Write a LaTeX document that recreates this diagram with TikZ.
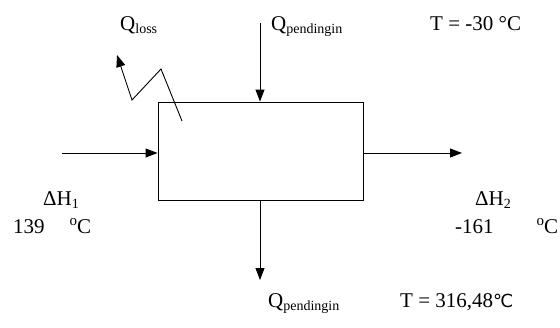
\documentclass[tikz,border=0pt]{standalone}
\usepackage{fontspec}
\setmainfont{Liberation Serif}
\newfontfamily\symfont{DejaVu Sans}
\usetikzlibrary{arrows.meta}
\newcommand{\subtxt}[1]{\raisebox{-0.35ex}{\fontsize{14}{14}\selectfont #1}}
\newcommand{\supo}{\raisebox{0.75ex}{\fontsize{15}{15}\selectfont o}}
\begin{document}
\begin{tikzpicture}[x=1pt,y=-1pt,
  lbl/.style={anchor=base west,inner sep=0pt,font=\fontsize{21}{21}\selectfont},
  flow/.style={line width=0.9pt,-{Triangle[length=12pt,width=9pt]}},
  unitbox/.style={draw,line width=0.9pt,minimum width=205pt,minimum height=98pt,inner sep=0pt}]
\useasboundingbox (0,0) rectangle (560,327);
\node[unitbox] (box) at (260.5,151) {};
\coordinate (inL) at (62,153);
\coordinate (outR) at (462,153);
\coordinate (topS) at (260,23);
\coordinate (botE) at (260,280);
\coordinate (z0) at (182,121);
\coordinate (z1) at (161,69);
\coordinate (z2) at (132,100);
\coordinate (z3) at (117,55);
\draw[flow] (inL) -- (inL -| box.west);
\draw[flow] (box.east |- outR) -- (outR);
\draw[flow] (topS) -- (topS |- box.north);
\draw[flow] (botE |- box.south) -- (botE);
\draw[flow] (z0) -- (z1) -- (z2) -- (z3);
\node[lbl] (qloss) at (120,30) {Q\subtxt{loss}};
\node[lbl] (qtop) at (271,30) {Q\subtxt{pendingin}};
\node[lbl] (ttop) at (430,30) {T = -30 °C};
\node[lbl] (h1) at (43,205) {ΔH\subtxt{1}};
\node[lbl] (t1) at (13,233) {139\hspace{25pt}\supo C};
\node[lbl] (h2) at (475,205) {ΔH\subtxt{2}};
\node[lbl] (t2) at (455,233) {-161\hspace{43pt}\supo C};
\node[lbl] (qbot) at (268,307) {Q\subtxt{pendingin}};
\node[lbl] (tbot) at (400,307) {T = 316,48{\symfont\fontsize{18}{18}\selectfont ℃}};
\end{tikzpicture}
\end{document}
